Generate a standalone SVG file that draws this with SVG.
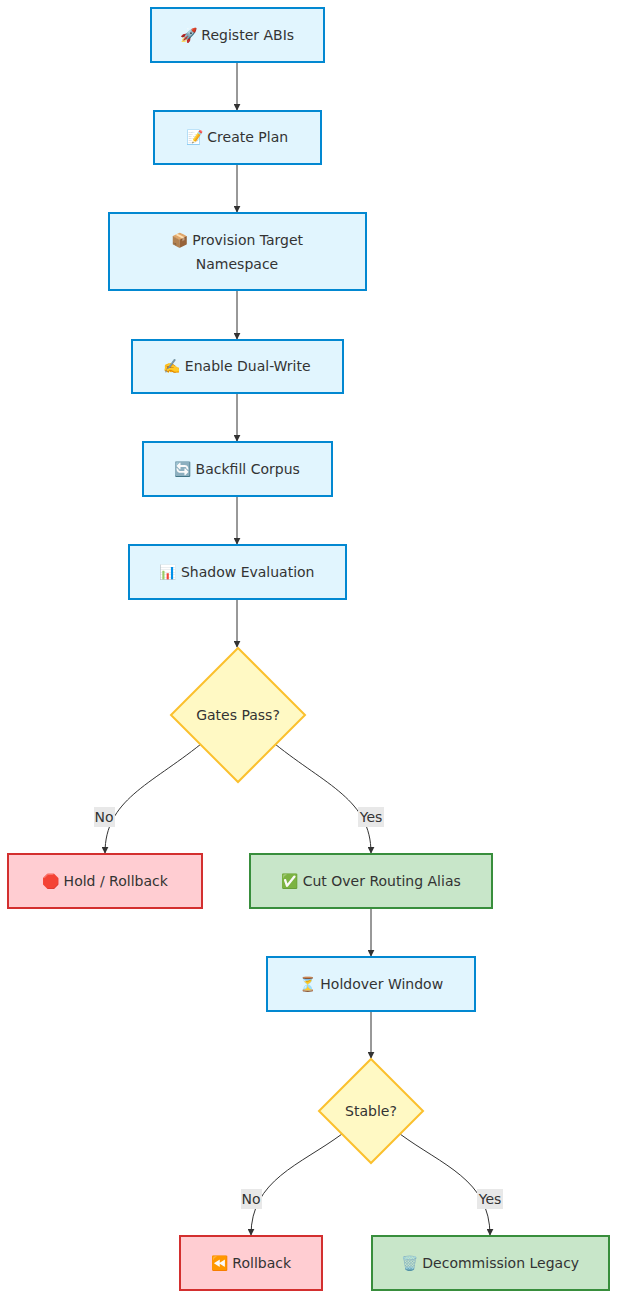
<svg xmlns="http://www.w3.org/2000/svg" width="625" height="1314" viewBox="0 0 625 1314">
<style>
text{font-family:"DejaVu Sans",sans-serif;font-size:14px;fill:#333;text-anchor:middle;dominant-baseline:central}
.b{fill:#e1f5fe;stroke:#0288d1;stroke-width:2}
.y{fill:#fff9c4;stroke:#fbc02d;stroke-width:2}
.r{fill:#ffcdd2;stroke:#d32f2f;stroke-width:2}
.g{fill:#c8e6c9;stroke:#388e3c;stroke-width:2}
.e{fill:none;stroke:#333;stroke-width:1}
.lb{fill:#e8e8e8}
</style>
<defs><marker id="a" viewBox="0 0 10 10" refX="9" refY="5" markerWidth="7" markerHeight="7" orient="auto"><path d="M0,0L10,5L0,10z" fill="#333"/></marker></defs>
<rect width="625" height="1314" fill="#fff"/>
<g id="connectors">
<path class="e" marker-end="url(#a)" d="M237,62V110"/>
<path class="e" marker-end="url(#a)" d="M237,164V212"/>
<path class="e" marker-end="url(#a)" d="M237,290V339"/>
<path class="e" marker-end="url(#a)" d="M237,393V441"/>
<path class="e" marker-end="url(#a)" d="M237,496V544"/>
<path class="e" marker-end="url(#a)" d="M237,599V647"/>
<path class="e" marker-end="url(#a)" d="M201,744C150,785 105,800 105,853"/>
<path class="e" marker-end="url(#a)" d="M275,744C326,785 371,800 371,853"/>
<path class="e" marker-end="url(#a)" d="M371,908V956"/>
<path class="e" marker-end="url(#a)" d="M371,1011V1058"/>
<path class="e" marker-end="url(#a)" d="M342,1134C300,1165 251,1180 251,1235"/>
<path class="e" marker-end="url(#a)" d="M400,1134C442,1165 490,1180 490,1235"/>
<rect class="lb" x="94" y="807" width="21" height="20"/><text x="104" y="817">No</text>
<rect class="lb" x="358" y="807" width="26" height="20"/><text x="371" y="817">Yes</text>
<rect class="lb" x="241" y="1189" width="21" height="20"/><text x="251" y="1199">No</text>
<rect class="lb" x="477" y="1189" width="26" height="20"/><text x="490" y="1199">Yes</text>
</g>
<g id="n1"><rect class="b" x="151" y="8" width="173" height="54"/><text x="237" y="35">🚀 Register ABIs</text></g>
<g id="n2"><rect class="b" x="154" y="111" width="167" height="53"/><text x="237" y="137">📝 Create Plan</text></g>
<g id="n3"><rect class="b" x="109" y="213" width="257" height="77"/><text x="237" y="240">📦 Provision Target</text><text x="237" y="264">Namespace</text></g>
<g id="n4"><rect class="b" x="132" y="340" width="211" height="53"/><text x="237" y="366">✍️ Enable Dual-Write</text></g>
<g id="n5"><rect class="b" x="143" y="442" width="189" height="54"/><text x="237" y="469">🔄 Backfill Corpus</text></g>
<g id="n6"><rect class="b" x="129" y="545" width="217" height="54"/><text x="237" y="572">📊 Shadow Evaluation</text></g>
<g id="n7"><polygon class="y" points="238,648 305,715 238,782 171,715"/><text x="238" y="715">Gates Pass?</text></g>
<g id="n8"><rect class="r" x="8" y="854" width="194" height="54"/><text x="105" y="881">🛑 Hold / Rollback</text></g>
<g id="n9"><rect class="g" x="250" y="854" width="242" height="54"/><text x="371" y="881">✅ Cut Over Routing Alias</text></g>
<g id="n10"><rect class="b" x="267" y="957" width="208" height="54"/><text x="371" y="984">⏳ Holdover Window</text></g>
<g id="n11"><polygon class="y" points="371,1059 423,1111 371,1163 319,1111"/><text x="371" y="1111">Stable?</text></g>
<g id="n12"><rect class="r" x="180" y="1236" width="142" height="54"/><text x="251" y="1263">⏪ Rollback</text></g>
<g id="n13"><rect class="g" x="372" y="1236" width="237" height="54"/><text x="490" y="1263">🗑️ Decommission Legacy</text></g>
</svg>
